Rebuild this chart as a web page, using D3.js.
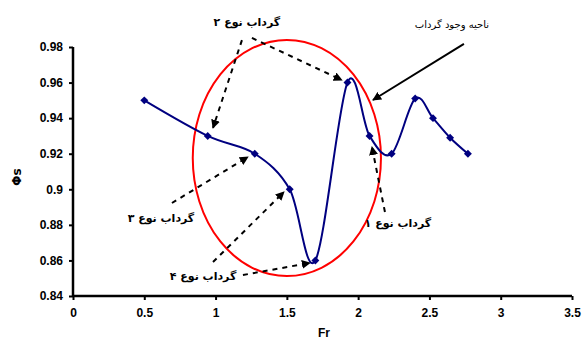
<!DOCTYPE html>
<html><head><meta charset="utf-8">
<script src="https://cdn.jsdelivr.net/npm/d3@7"></script>
<style>body{margin:0;background:#fff}svg{display:block}</style>
</head><body>
<svg id="c" width="584" height="345"></svg>
<script>
// Data
const frValues = [0.5, 0.945, 1.275, 1.52, 1.70, 1.925, 2.08, 2.235, 2.40, 2.525, 2.645, 2.77];
const phiValues = [0.950, 0.930, 0.920, 0.900, 0.860, 0.960, 0.930, 0.920, 0.951, 0.940, 0.929, 0.920];
const xTicks = [0, 0.5, 1, 1.5, 2, 2.5, 3, 3.5];
const xTickLabels = ["0", "0.5", "1", "1.5", "2", "2.5", "3", "3.5"];
const yTicks = [0.84, 0.86, 0.88, 0.90, 0.92, 0.94, 0.96, 0.98];
const yTickLabels = ["0.84", "0.86", "0.88", "0.9", "0.92", "0.94", "0.96", "0.98"];
const xTitle = "Fr";
const yTitle = "Φs";
// Annotations (data units)
const labelTexts = ["گرداب نوع ۲", "ناحیه وجود گرداب", "گرداب نوع ۳", "گرداب نوع ۴", "گرداب نوع ۱"];
const labelX = [1.22, 2.658, 0.617, 0.912, 2.279];
const labelY = [0.994, 0.9924, 0.8839, 0.8512, 0.881];
const arrowX1 = [1.185, 1.255, 2.742, 0.694, 0.982, 1.192, 2.188];
const arrowY1 = [0.9839, 0.9851, 0.9817, 0.8923, 0.8591, 0.8518, 0.8872];
const arrowX2 = [0.982, 1.886, 2.104, 1.227, 1.480, 1.662, 2.097];
const arrowY2 = [0.9345, 0.9614, 0.9502, 0.9182, 0.8985, 0.8586, 0.9238];
const arrowDashed = [true, true, false, true, true, true, true];
const ellipseCenter = [1.5, 0.9176];
const ellipseRadii = [0.66, 0.0664];

const svg = d3.select("#c");
const x = d3.scaleLinear().domain([0, 3.5]).range([73, 572]);
const y = d3.scaleLinear().domain([0.84, 0.98]).range([296, 47]);

// Axes
const xAxis = d3.axisBottom(x).tickValues(xTicks).tickFormat((d, i) => xTickLabels[i]).tickSize(4).tickPadding(8);
const yAxis = d3.axisLeft(y).tickValues(yTicks).tickFormat((d, i) => yTickLabels[i]).tickSize(4).tickPadding(6);
const gx = svg.append("g").attr("transform", "translate(0,296)").call(xAxis);
const gy = svg.append("g").attr("transform", "translate(73,0)").call(yAxis);
[gx, gy].forEach(g => {
  g.select(".domain").attr("stroke", "#000").attr("stroke-width", 2.5);
  g.selectAll(".tick line").attr("stroke", "#000").attr("stroke-width", 2);
  g.selectAll(".tick text").attr("fill", "#000").style("font-family", "Liberation Sans, Arial, sans-serif")
    .style("font-size", "12px").style("font-weight", "bold");
});
gx.select(".domain").attr("d", `M${x(0)},0H${x(3.5)}`);
gy.select(".domain").attr("d", `M0,${y(0.84)}V${y(0.98)}`);

svg.append("text").attr("x", 324).attr("y", 337).attr("text-anchor", "middle")
  .style("font-family", "Liberation Sans, Arial, sans-serif").style("font-size", "12px").style("font-weight", "bold").text(xTitle);
svg.append("text").attr("transform", "translate(21,177) rotate(-90)").attr("text-anchor", "middle")
  .style("font-family", "DejaVu Sans, sans-serif").style("font-size", "12px").style("font-weight", "bold").text(yTitle);

// Ellipse
svg.append("ellipse")
  .attr("cx", x(ellipseCenter[0])).attr("cy", y(ellipseCenter[1]))
  .attr("rx", x(ellipseCenter[0] + ellipseRadii[0]) - x(ellipseCenter[0]))
  .attr("ry", y(ellipseCenter[1]) - y(ellipseCenter[1] + ellipseRadii[1]))
  .attr("fill", "none").attr("stroke", "#ff0000").attr("stroke-width", 2);

// Series
const pts = frValues.map((v, i) => [v, phiValues[i]]);
const line = d3.line().x(d => x(d[0])).y(d => y(d[1])).curve(d3.curveCardinal.tension(0));
svg.append("path").attr("d", line(pts)).attr("fill", "none").attr("stroke", "#000080").attr("stroke-width", 2);
svg.selectAll(".m").data(pts).enter().append("path")
  .attr("transform", d => `translate(${x(d[0])},${y(d[1])})`)
  .attr("d", d3.symbol().type(d3.symbolDiamond2).size(40)).attr("fill", "#000080");

// Arrows
const defs = svg.append("defs");
defs.append("marker").attr("id", "ah").attr("viewBox", "0 0 10 10").attr("refX", 9).attr("refY", 5)
  .attr("markerWidth", 4.5).attr("markerHeight", 4.5).attr("markerUnits", "strokeWidth").attr("orient", "auto")
  .append("path").attr("d", "M0,0L10,5L0,10z").attr("fill", "#000");
arrowX1.forEach((v, i) => {
  svg.append("line").attr("x1", x(v)).attr("y1", y(arrowY1[i])).attr("x2", x(arrowX2[i])).attr("y2", y(arrowY2[i]))
    .attr("stroke", "#000").attr("stroke-width", 2)
    .attr("stroke-dasharray", arrowDashed[i] ? "5,5" : null)
    .attr("marker-end", "url(#ah)");
});

// Labels
labelTexts.forEach((t, i) => {
  svg.append("text").attr("x", x(labelX[i])).attr("y", y(labelY[i])).attr("dy", "0.35em")
    .attr("text-anchor", "middle").attr("direction", "rtl")
    .style("font-family", "DejaVu Sans, sans-serif").style("font-size", i === 1 ? "10px" : "11px")
    .style("font-weight", i === 1 ? "normal" : "bold").text(t);
});
</script>
</body></html>
